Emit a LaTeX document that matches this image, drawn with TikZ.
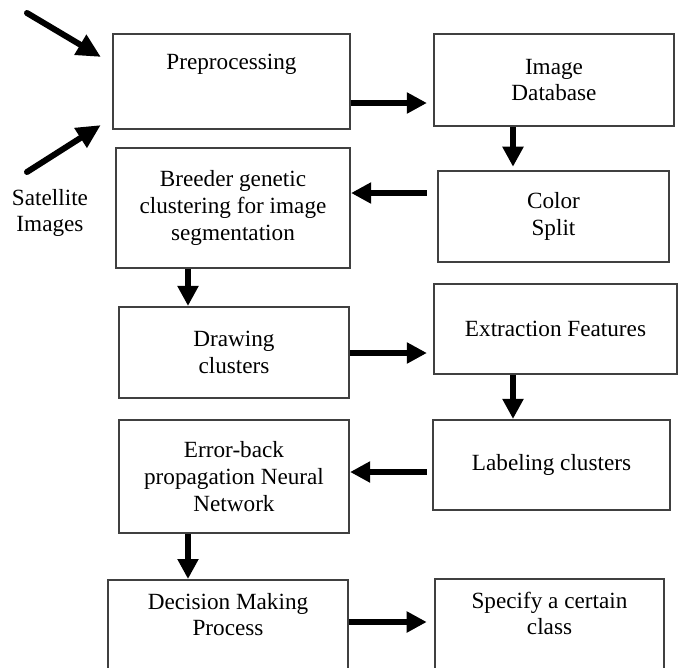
\documentclass[tikz,border=0pt]{standalone}
\usepackage{fontspec}
\setmainfont{Liberation Serif}
\usetikzlibrary{arrows.meta}

\begin{document}
\begin{tikzpicture}[
  x=0.025cm, y=-0.025cm,
  box/.style={draw=black!75, line width=1.5pt, align=center, inner sep=2pt,
    font=\fontsize{16.5}{19}\selectfont},
  caption/.style={align=center, inner sep=0pt, font=\fontsize{16.5}{19}\selectfont},
  arrow/.style={-{Triangle[length=0.5cm, width=0.5cm]}, line width=0.13cm},
  inarrow/.style={-{Triangle[length=0.6cm, width=0.55cm]}, line width=0.15cm, line cap=round},
]
\useasboundingbox (0,0) rectangle (680,667);
\clip (0,0) rectangle (680,667);

% === LEFT COLUMN ===
\node[box, minimum width=5.925cm, minimum height=2.375cm] (pre) at (231.5,81.5) {Preprocessing\\[3pt]\strut};
\node[box, minimum width=5.85cm, minimum height=3cm] (breeder) at (233,208)
  {Breeder genetic\\clustering for image\\segmentation};
\node[box, minimum width=5.75cm, minimum height=2.275cm] (drawcl) at (234,352.5) {Drawing\\clusters};
\node[box, minimum width=5.75cm, minimum height=2.825cm] (error) at (234,476.5)
  {Error-back\\propagation Neural\\Network};
\node[box, anchor=north, minimum width=6cm, minimum height=3.25cm] (decision) at (228,579)
  {Decision Making\\Process\\\strut\\\strut};

% === RIGHT COLUMN ===
\node[box, minimum width=6cm, minimum height=2.3cm] (imgdb) at (554,80) {Image\\Database};
\node[box, minimum width=5.775cm, minimum height=2.275cm] (color) at (553.5,216.5) {Color\\Split};
\node[box, minimum width=6.075cm, minimum height=2.25cm] (extract) at (555.5,329) {Extraction Features};
\node[box, minimum width=5.925cm, minimum height=2.25cm] (labelcl) at (551.5,465) {Labeling clusters};
\node[box, anchor=north, minimum width=5.725cm, minimum height=3.25cm] (specify) at (549.5,578)
  {Specify a certain\\class\\\strut\\\strut};

% === INPUT ===
\node[caption] (sat) at (50,213) {Satellite\\Images};
\coordinate (in1) at (27,13);
\coordinate (in2) at (27,172);
\draw[inarrow, shorten >=0.32cm] (in1) -- (pre.west |- 0,63.5);
\draw[inarrow, shorten >=0.33cm] (in2) -- (pre.west |- 0,118);

% === FLOW ===
\draw[arrow, shorten >=0.15cm] (pre.east |- 0,103) -- (imgdb.west |- 0,103);
\draw[arrow, shorten >=0.08cm] (imgdb.south -| 513,0) -- (color.north -| 513,0);
\draw[arrow, shorten <=0.25cm] (color.west |- 0,193) -- (breeder.east |- 0,193);
\draw[arrow] (breeder.south -| 188,0) -- (drawcl.north -| 188,0);
\draw[arrow, shorten >=0.15cm] (drawcl.east |- 0,353) -- (extract.west |- 0,353);
\draw[arrow] (extract.south -| 513,0) -- (labelcl.north -| 513,0);
\draw[arrow, shorten <=0.13cm] (labelcl.west |- 0,472) -- (error.east |- 0,472);
\draw[arrow] (error.south -| 188,0) -- (decision.north -| 188,0);
\draw[arrow, shorten >=0.18cm] (decision.east |- 0,622) -- (specify.west |- 0,622);
\end{tikzpicture}
\end{document}
